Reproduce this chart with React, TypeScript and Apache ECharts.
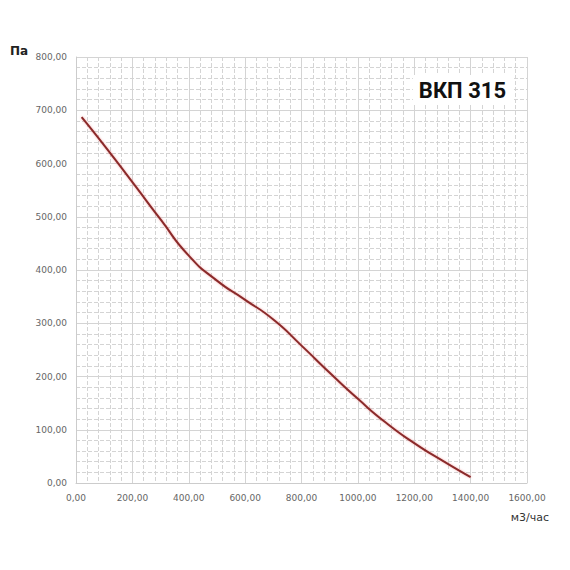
import { useEffect, useRef } from 'react'
import * as echarts from 'echarts'

// flow, m3/h
const flow = [20, 100, 200, 300, 400, 500, 600, 700, 800, 900, 1000, 1100, 1200, 1300, 1400]
// pressure, Pa
const pressure = [687, 634, 565, 495, 427, 380, 344, 307, 258, 207, 158, 113, 75, 42, 11]

const title = 'ВКП 315'
const xName = 'м3/час'
const yName = 'Па'

const fmt = (v: number) => v.toFixed(2).replace('.', ',')

export default function App() {
  const chartRef = useRef<HTMLDivElement>(null)

  useEffect(() => {
    if (!chartRef.current) return
    const chart = echarts.init(chartRef.current, null, { renderer: 'svg' })

    const axisLabel = {
      color: '#666',
      fontSize: 9,
      fontFamily: 'DejaVu Sans',
      formatter: fmt,
    }

    const option: echarts.EChartsOption = {
      animation: false,
      backgroundColor: '#fff',
      title: {
        text: title,
        right: 58,
        top: 75,
        backgroundColor: '#fff',
        padding: [4, 6],
        textStyle: {
          fontSize: 22,
          fontWeight: 'bold',
          fontFamily: 'Roboto',
          color: '#111',
        },
      },
      grid: { left: 76, right: 43, top: 57, bottom: 87 },
      xAxis: {
        type: 'value',
        min: 0,
        max: 1600,
        interval: 200,
        name: xName,
        nameLocation: 'end',
        nameGap: 0,
        nameTextStyle: {
          color: '#333',
          fontSize: 11,
          fontFamily: 'DejaVu Sans',
          align: 'right',
          verticalAlign: 'top',
          padding: [29, -22, 0, 0],
        },
        axisLine: { show: true, lineStyle: { color: '#ccc' } },
        axisTick: { show: false },
        axisLabel: { ...axisLabel, margin: 10 },
        splitLine: { show: true, lineStyle: { color: '#d4d4d4', width: 1 } },
        minorTick: { show: false, splitNumber: 5 },
        minorSplitLine: { show: true, lineStyle: { color: '#d4d4d4', width: 1, type: [4, 2] } },
      },
      yAxis: {
        type: 'value',
        min: 0,
        max: 800,
        interval: 100,
        name: yName,
        nameLocation: 'end',
        nameGap: 0,
        nameTextStyle: {
          color: '#222',
          fontSize: 12,
          fontWeight: 'bold',
          fontFamily: 'DejaVu Sans',
          align: 'left',
          padding: [0, 0, 0, -66],
        },
        axisLine: { show: true, lineStyle: { color: '#ccc' } },
        axisTick: { show: false },
        axisLabel: { ...axisLabel, margin: 9 },
        splitLine: { show: true, lineStyle: { color: '#d4d4d4', width: 1 } },
        minorTick: { show: false, splitNumber: 5 },
        minorSplitLine: { show: true, lineStyle: { color: '#d4d4d4', width: 1, type: [4, 2] } },
      },
      series: [
        {
          type: 'line',
          data: flow.map((x, i) => [x, pressure[i]]),
          smooth: 0.6,
          symbol: 'none',
          lineStyle: {
            color: '#8a2a2a',
            width: 2,
            shadowColor: 'rgba(230,90,90,0.5)',
            shadowBlur: 2,
          },
        },
      ],
    }

    chart.setOption(option)
    return () => {
      chart.dispose()
    }
  }, [])

  return (
    <div
      ref={chartRef}
      style={{ position: 'absolute', left: 0, top: 0, width: '570px', height: '570px' }}
    />
  )
}
